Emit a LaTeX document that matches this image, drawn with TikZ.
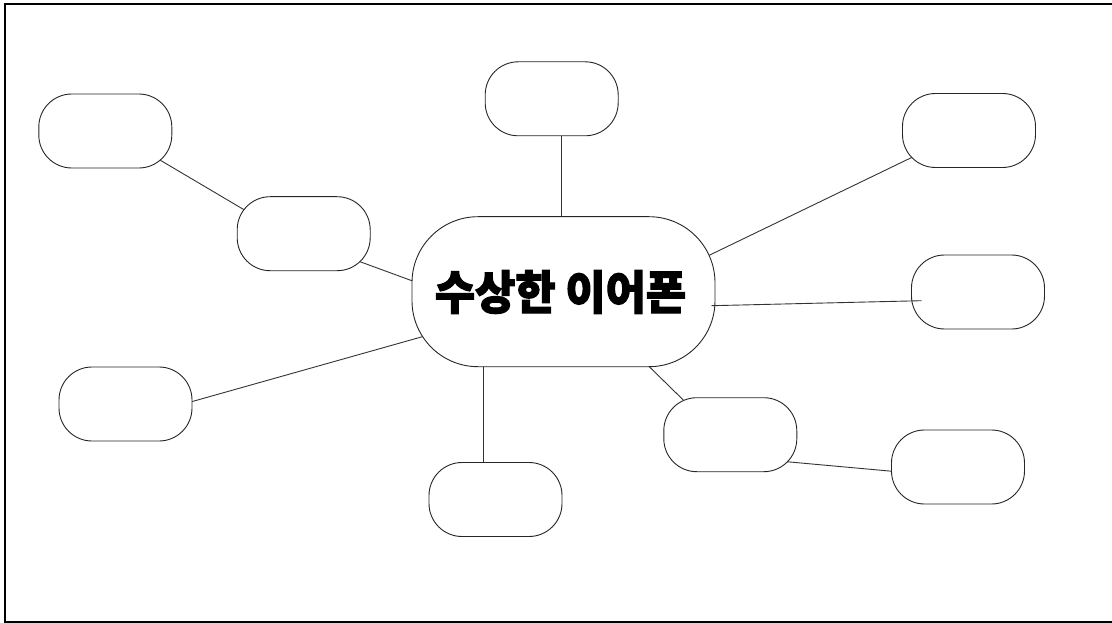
\documentclass[tikz,border=0pt]{standalone}
\usepackage{fontspec}
\newfontfamily\cjk[BoldFeatures={FakeBold=2.5}]{Noto Sans CJK KR}
\usetikzlibrary{calc,backgrounds}
\begin{document}
\begin{tikzpicture}[x=1pt,y=-1pt,
  bubble/.style={draw=black!85,line width=0.9pt,fill=white,rounded corners=33pt,
    minimum width=133pt,minimum height=74pt,inner sep=0pt},
  hub/.style={draw=black!85,line width=0.9pt,fill=white,rounded corners=66pt,
    minimum width=303pt,minimum height=150pt,inner sep=0pt},
  link/.style={draw=black!80,line width=0.9pt}]
\useasboundingbox (0,0) rectangle (1112,623);
\clip (0,0) rectangle (1112,623);
\draw[line width=2pt] (5,4.5) rectangle (1130,621.5);

\node[hub] (c) at (563.5,291.7) {};
\node (t) at (560.5,292) {\cjk\bfseries\fontsize{42}{50}\selectfont\scalebox{1.04}[1.1]{수상한 이어폰}};
\node[bubble] (b1) at (105.3,131) {};
\node[bubble] (b2) at (303.7,233.7) {};
\node[bubble] (b3) at (551.7,98.8) {};
\node[bubble] (b4) at (969,130.5) {};
\node[bubble] (b5) at (978,292) {};
\node[bubble] (b7) at (125.5,404) {};
\node[bubble] (b8) at (495.5,499.5) {};
\node[bubble] (b9) at (730.3,434.7) {};
\node[bubble] (b10) at (958,467) {};

\begin{scope}[on background layer]
\draw[link] ($(b1.center)+(14.7,5.4)$) -- ($(b2.center)+(-23.7,-2.7)$);
\draw[link] ($(b2.center)+(26.3,17)$) -- ($(c.center)+(-113.5,3)$);
\draw[link] ($(b3.center)+(10,0)$) -- ($(c.center)+(-1.8,0)$);
\draw[link] ($(b4.center)+(-29,13.3)$) -- ($(c.center)+(116.5,-22.3)$);
\draw[link] ($(b7.center)+(34.5,6.6)$) -- ($(c.center)+(-103.5,34.4)$);
\draw[link] ($(b8.center)+(-12.2,0)$) -- ($(c.center)+(-80.2,0)$);
\draw[link] ($(c.center)+(56.5,46.3)$) -- ($(b9.center)+(-20.3,-8.5)$);
\draw[link] ($(b9.center)+(29.7,24.6)$) -- ($(b10.center)+(-28,7.7)$);
\end{scope}
\draw[link] ($(c.center)+(148,14)$) -- ($(b5.center)+(-56.3,8.7)$);
\end{tikzpicture}
\end{document}
